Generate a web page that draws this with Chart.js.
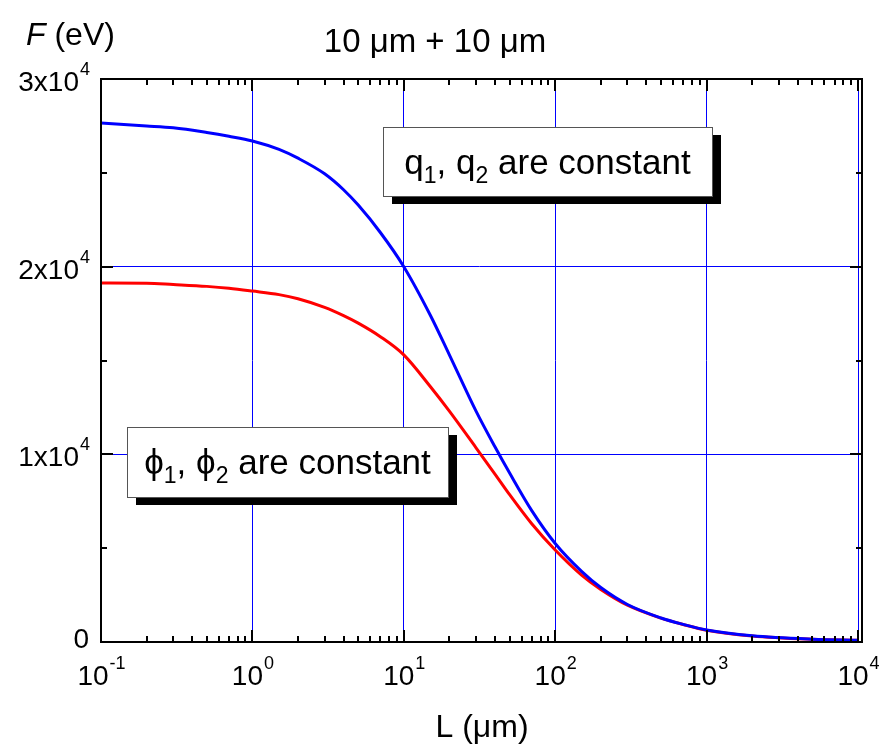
<!DOCTYPE html>
<html>
<head>
<meta charset="utf-8">
<script src="https://cdn.jsdelivr.net/npm/chart.js@4"></script>
<style>
  body { margin: 0; background: #fff; }
  #chart { display: block; }
</style>
</head>
<body>
<canvas id="chart" width="881" height="752"></canvas>
<script>
// L in micrometres, F in eV
const lengths = [0.1, 0.2, 0.3, 0.5, 0.7, 1, 1.5, 2, 3, 4, 5, 7, 10, 15, 20, 30, 40, 50, 70, 100, 150, 200, 300, 500, 700, 1000, 2000, 5000, 10000];
const qConstant = [27650, 27500, 27400, 27150, 26950, 26700, 26250, 25780, 24950, 24100, 23280, 21820, 20000, 17400, 15300, 12300, 10400, 9000, 7000, 5250, 3750, 2900, 2000, 1280, 940, 640, 330, 150, 90];
const phiConstant = [19130, 19120, 19050, 18950, 18850, 18700, 18510, 18290, 17830, 17390, 16990, 16270, 15300, 13600, 12300, 10350, 8950, 7850, 6300, 4900, 3550, 2800, 1960, 1270, 935, 630, 325, 148, 88];

const xTicks = [0.1, 1, 10, 100, 1000, 10000];
const xTickExp = ["-1", "0", "1", "2", "3", "4"];
const yTicks = [0, 10000, 20000, 30000];
const yTickBase = ["0", "1x10", "2x10", "3x10"];
const yTickExp = ["", "4", "4", "4"];
const yMinor = [5000, 15000, 25000];

const FONT = "'Liberation Sans', Arial, sans-serif";

function toPoints(ys) {
  return lengths.map((l, i) => ({x: l, y: ys[i]}));
}

function drawPow(ctx, base, exp, x, y, align) {
  ctx.font = "28px " + FONT;
  const wb = ctx.measureText(base).width;
  ctx.font = "18px " + FONT;
  const we = ctx.measureText(exp).width;
  let start = x;
  if (align === "center") start = x - (wb + we) / 2;
  if (align === "right") start = x - wb - we;
  ctx.textAlign = "left";
  ctx.font = "28px " + FONT;
  ctx.fillText(base, start, y);
  ctx.font = "18px " + FONT;
  ctx.fillText(exp, start + wb + 1, y - 16);
}

function drawLabelBox(ctx, parts, left, top, w, h) {
  ctx.fillStyle = "#000";
  ctx.fillRect(left + 9, top + 8, w, h);
  ctx.fillStyle = "#fff";
  ctx.fillRect(left, top, w, h);
  ctx.strokeStyle = "#555";
  ctx.lineWidth = 1;
  ctx.strokeRect(left + 0.5, top + 0.5, w, h);
  let total = 0;
  parts.forEach(p => {
    ctx.font = (p.sub ? "23px " : "35px ") + FONT;
    total += ctx.measureText(p.t).width;
  });
  let x = left + (w - total) / 2;
  const base = top + h / 2 + 12;
  ctx.fillStyle = "#000";
  ctx.textAlign = "left";
  parts.forEach(p => {
    ctx.font = (p.sub ? "23px " : "35px ") + FONT;
    ctx.fillText(p.t, x, p.sub ? base + 9 : base);
    x += ctx.measureText(p.t).width;
  });
}

const decorations = {
  id: "decorations",
  afterDraw(chart) {
    const ctx = chart.ctx;
    const xs = chart.scales.x, ys = chart.scales.y;
    const a = chart.chartArea;
    const right = a.right + 4;
    ctx.save();
    ctx.strokeStyle = "#000";
    ctx.lineWidth = 2;
    ctx.strokeRect(a.left, a.top, right - a.left, a.bottom - a.top);

    // inward tick marks on all four sides
    ctx.beginPath();
    for (let d = 0.1; d < 10000; d *= 10) {
      for (let k = 1; k < 10; k++) {
        const px = Math.round(xs.getPixelForValue(d * k));
        const len = k === 1 ? 12 : 6;
        ctx.moveTo(px, a.bottom); ctx.lineTo(px, a.bottom - len);
        ctx.moveTo(px, a.top); ctx.lineTo(px, a.top + len);
      }
    }
    const pEnd = Math.round(xs.getPixelForValue(10000));
    ctx.moveTo(pEnd, a.bottom); ctx.lineTo(pEnd, a.bottom - 12);
    ctx.moveTo(pEnd, a.top); ctx.lineTo(pEnd, a.top + 12);
    yTicks.forEach(v => {
      const py = Math.round(ys.getPixelForValue(v));
      ctx.moveTo(a.left, py); ctx.lineTo(a.left + 12, py);
      ctx.moveTo(right, py); ctx.lineTo(right - 12, py);
    });
    yMinor.forEach(v => {
      const py = Math.round(ys.getPixelForValue(v));
      ctx.moveTo(a.left, py); ctx.lineTo(a.left + 6, py);
      ctx.moveTo(right, py); ctx.lineTo(right - 6, py);
    });
    ctx.stroke();

    ctx.fillStyle = "#000";
    ctx.textBaseline = "alphabetic";
    xTicks.forEach((v, i) => {
      drawPow(ctx, "10", xTickExp[i], xs.getPixelForValue(v), a.bottom + 43, "center");
    });
    yTicks.forEach((v, i) => {
      const py = ys.getPixelForValue(v);
      drawPow(ctx, yTickBase[i], yTickExp[i], 89, py + (yTickExp[i] ? 12 : 6), "right");
    });

    ctx.textAlign = "left";
    ctx.font = "italic 32px " + FONT;
    ctx.fillText("F", 26, 45);
    const wf = ctx.measureText("F").width;
    ctx.font = "32px " + FONT;
    ctx.fillText(" (eV)", 26 + wf, 45);

    ctx.textAlign = "center";
    ctx.font = "33px " + FONT;
    ctx.fillText("10 \u03bcm + 10 \u03bcm", 435, 52);
    ctx.font = "32px " + FONT;
    ctx.fillText("L (\u03bcm)", 482, 737);

    drawLabelBox(ctx, [
      {t: "q"}, {t: "1", sub: true}, {t: ", q"}, {t: "2", sub: true}, {t: " are constant"}
    ], 383, 127, 329, 69);
    drawLabelBox(ctx, [
      {t: "\u03d5"}, {t: "1", sub: true}, {t: ", \u03d5"}, {t: "2", sub: true}, {t: " are constant"}
    ], 127, 427, 321, 70);
    ctx.restore();
  }
};

new Chart("chart", {
  type: "line",
  data: {
    datasets: [{
      label: "q1, q2 are constant",
      data: toPoints(qConstant),
      borderColor: "#0000ff",
      backgroundColor: "#0000ff",
      borderWidth: 3,
      pointRadius: 0,
      fill: false,
      cubicInterpolationMode: "monotone"
    }, {
      label: "phi1, phi2 are constant",
      data: toPoints(phiConstant),
      borderColor: "#ff0000",
      backgroundColor: "#ff0000",
      borderWidth: 3,
      pointRadius: 0,
      fill: false,
      cubicInterpolationMode: "monotone"
    }]
  },
  options: {
    responsive: false,
    animation: false,
    devicePixelRatio: 1,
    layout: {padding: {left: 101, right: 23, top: 79, bottom: 110}},
    plugins: {
      legend: {display: false},
      tooltip: {enabled: false}
    },
    scales: {
      x: {
        type: "logarithmic",
        min: 0.1,
        max: 10000,
        afterBuildTicks: s => { s.ticks = xTicks.map(v => ({value: v})); },
        ticks: {display: false},
        grid: {color: "#0000ff", lineWidth: 1, drawTicks: false},
        border: {display: false}
      },
      y: {
        type: "linear",
        min: 0,
        max: 30000,
        afterBuildTicks: s => { s.ticks = yTicks.map(v => ({value: v})); },
        ticks: {display: false},
        grid: {color: "#0000ff", lineWidth: 1, drawTicks: false},
        border: {display: false}
      }
    }
  },
  plugins: [decorations]
});
</script>
</body>
</html>
